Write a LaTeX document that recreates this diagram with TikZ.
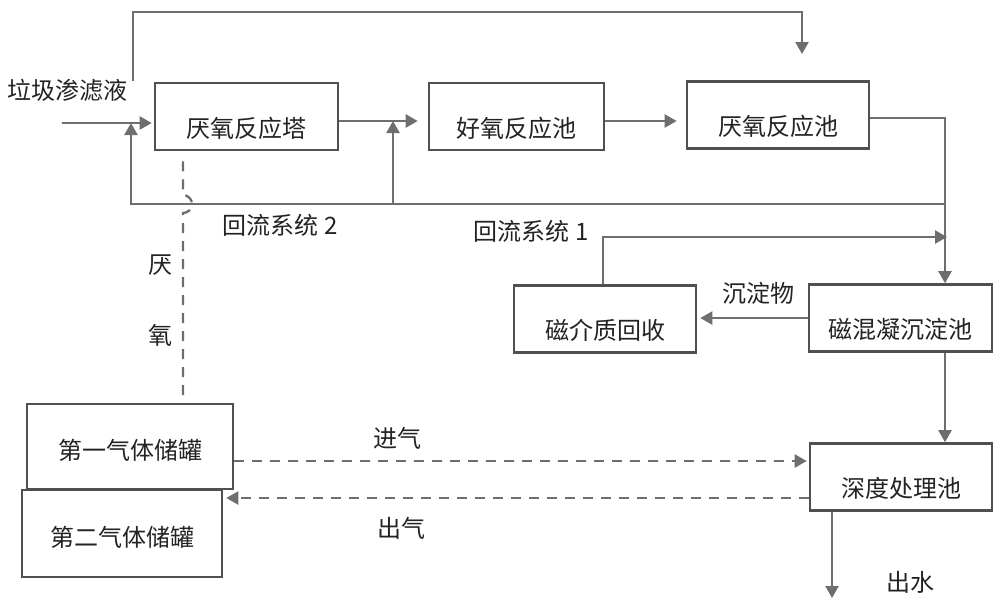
\documentclass[tikz,border=0pt]{standalone}
\usepackage{fontspec}
\setmainfont{Noto Sans CJK SC}
\usetikzlibrary{arrows.meta,calc}
\definecolor{linegray}{RGB}{110,110,110}
\definecolor{boxgray}{RGB}{80,80,80}
\definecolor{inkgray}{RGB}{35,35,35}
\tikzset{every picture/.style={>={Triangle[length=12pt,width=13pt]}},
  unit/.style={draw=boxgray,line width=2.6pt,inner sep=0pt,text height=54pt,text depth=13pt},
  tank/.style={draw=boxgray,line width=2.6pt,inner sep=0pt,text height=55pt,text depth=30pt},
  flow/.style={->,draw=linegray,line width=2.3pt},
  gasline/.style={draw=linegray,line width=2.3pt,dash pattern=on 10pt off 8pt},
  note/.style={text=inkgray}}

\begin{document}
\begin{tikzpicture}[x=1pt,y=-1pt,font=\fontsize{24}{28}\selectfont,text=inkgray]
  \useasboundingbox (0,0) rectangle (1000,606);
  % treatment units
  \node[unit,minimum width=183pt] (tower) at (246.5,116.5) {厌氧反应塔};
  \node[unit,minimum width=175pt] (aero) at (516.5,116.5) {好氧反应池};
  \node[unit,minimum width=182pt] (anox) at (778,115) {厌氧反应池};
  \node[unit,minimum width=182pt] (magrec) at (605,319) {磁介质回收};
  \node[unit,minimum width=183pt] (magsed) at (900.5,318) {磁混凝沉淀池};
  \node[unit,minimum width=182pt] (deep) at (901,477) {深度处理池};
  \node[tank,minimum width=206pt] (tankA) at (130,446.5) {第一气体储罐};
  \node[tank,minimum width=200pt,text height=56pt,text depth=31pt] (tankB) at (122,533.5) {第二气体储罐};
  % labels
  \node[note] (leach) at (67.5,90) {垃圾渗滤液};
  \node[note] (ret2) at (280,225) {回流系统 2};
  \node[note] (ret1) at (531,231) {回流系统 1};
  \node[note] (sludge) at (758,293) {沉淀物};
  \node[note] (water) at (910,582) {出水};
  \node[note] (gasin) at (397,438) {进气};
  \node[note] (gasout) at (401,528) {出气};
  \node[note] (ana1) at (160,265) {厌};
  \node[note] (ana2) at (160,335) {氧};
  % free ends
  \coordinate (feed) at (62,123);
  \coordinate (lvl) at (0,121);
  \coordinate (bypass) at (133,81);
  \coordinate (top) at (802,12);
  \coordinate (drop) at (802,54);
  \coordinate (r2) at (945,204);
  \coordinate (r2a) at (131,204);
  \coordinate (r2b) at (393,204);
  \coordinate (r1) at (947,237);
  \coordinate (col) at (945,0);
  \coordinate (out) at (832,598);
  \coordinate (gi) at (0,461);
  \coordinate (go) at (0,498);
  \coordinate (hop) at (183,195);
  % main line
  \draw[flow,shorten >=2pt] (feed) -- (feed -| tower.west);
  \draw[flow,shorten >=10pt] (tower.east |- lvl) -- (aero.west |- lvl);
  \draw[flow,shorten >=9pt] (aero.east |- lvl) -- (anox.west |- lvl);
  \draw[flow] (bypass) |- (top) -- (drop);
  \draw[flow] (anox.east |- 0,118) -| (magsed.north -| col);
  % return systems
  \draw[flow] (r2) -- (r2a) -- (r2a |- feed);
  \draw[flow] (r2b) -- (r2b |- lvl);
  \draw[flow] ([xshift=-2pt]magrec.north) |- (r1);
  \draw[flow,shorten >=3pt] (magsed.west) -- (magsed.west -| magrec.east);
  \draw[flow] (magsed.south -| col) -- (deep.north -| col);
  \draw[flow] (deep.south -| out) -- (out);
  % gas lines
  \draw[gasline,->,shorten >=2pt] (tankA.east |- gi) -- (deep.west |- gi);
  \draw[gasline,->,shorten >=3pt] (deep.west |- go) -- (tankB.east |- go);
  \draw[gasline] ($(tower.south -| hop)+(0,10)$) -- (hop)
    arc[start angle=90,end angle=-90,radius=9pt] -- ($(tankA.north -| hop)+(0,-6)$);
\end{tikzpicture}
\end{document}
